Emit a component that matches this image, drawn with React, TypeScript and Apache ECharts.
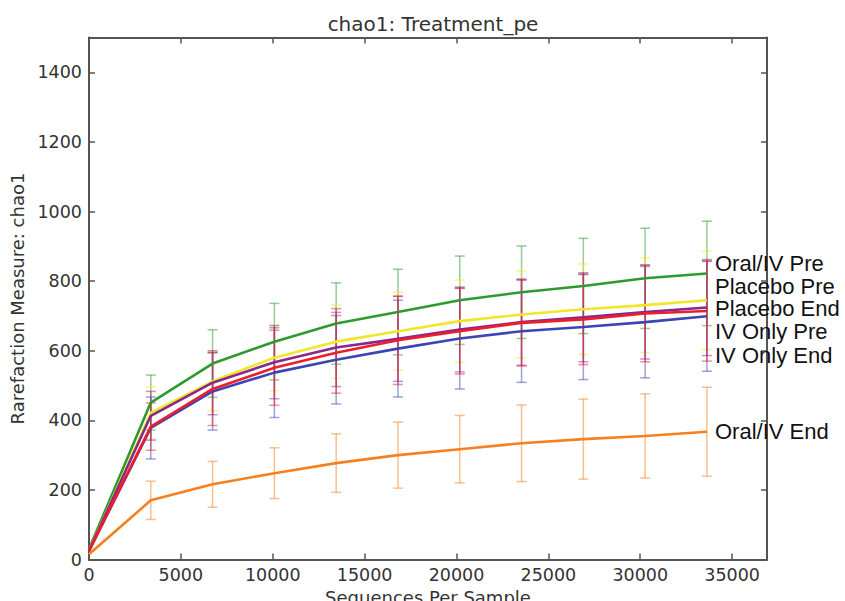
import React, { useEffect, useRef } from 'react';
import * as echarts from 'echarts';

// Sequences per sample (rarefaction depths)
const depths = [0, 3363, 6726, 10089, 13452, 16815, 20178, 23541, 26904, 30267, 33630];

const groupNames = ['Oral/IV Pre', 'Placebo Pre', 'Placebo End', 'IV Only Pre', 'IV Only End', 'Oral/IV End'];
const groupColors = ['#2e9a2e', '#f2e62a', '#87298a', '#ee1d2b', '#3b45b3', '#f6801f'];

const oralIvPreMean = [30, 451, 563, 626, 678, 711, 745, 768, 786, 808, 822];
const oralIvPreStd = [0, 79, 97, 110, 117, 123, 127, 133, 137, 144, 150];

const placeboPreMean = [25, 421, 512, 580, 626, 656, 685, 704, 719, 731, 745];
const placeboPreStd = [0, 75, 85, 95, 105, 112, 118, 125, 130, 136, 142];

const placeboEndMean = [25, 413, 508, 567, 609, 634, 661, 682, 696, 711, 724];
const placeboEndStd = [0, 70, 92, 105, 112, 122, 122, 124, 128, 135, 138];

const ivOnlyPreMean = [25, 382, 490, 551, 594, 630, 656, 680, 690, 707, 714];
const ivOnlyPreStd = [0, 68, 105, 108, 116, 127, 123, 124, 130, 139, 144];

const ivOnlyEndMean = [25, 378, 483, 537, 574, 606, 635, 656, 668, 682, 699];
const ivOnlyEndStd = [0, 89, 111, 129, 127, 139, 145, 147, 151, 160, 158];

const oralIvEndMean = [15, 170, 216, 248, 277, 300, 317, 334, 346, 355, 367];
const oralIvEndStd = [0, 55, 66, 73, 84, 95, 97, 110, 115, 121, 128];

const xTicks = [0, 5000, 10000, 15000, 20000, 25000, 30000, 35000];
const yTicks = [0, 200, 400, 600, 800, 1000, 1200, 1400];

const labelYs = [265, 288, 310, 333, 357, 433];

const means = [oralIvPreMean, placeboPreMean, placeboEndMean, ivOnlyPreMean, ivOnlyEndMean, oralIvEndMean];
const stds = [oralIvPreStd, placeboPreStd, placeboEndStd, ivOnlyPreStd, ivOnlyEndStd, oralIvEndStd];

// draw order: first drawn is lowest
const drawOrder = [5, 0, 1, 4, 2, 3];

const X_MAX = 36900;
const Y_MAX = 1500;
const FONT = '"DejaVu Sans", sans-serif';

export default function App() {
  const ref = useRef<HTMLDivElement>(null);

  useEffect(() => {
    if (!ref.current) return;
    const chart = echarts.init(ref.current, null, { renderer: 'svg', width: 845, height: 601 });

    const series: any[] = [];
    drawOrder.forEach((gi, k) => {
      const color = groupColors[gi];
      const mean = means[gi];
      const std = stds[gi];
      series.push({
        type: 'custom',
        name: groupNames[gi] + ' error',
        xAxisIndex: 0,
        yAxisIndex: 0,
        z: 2,
        silent: true,
        data: depths
          .map((x, i) => [x, mean[i] - std[i], mean[i] + std[i], std[i]])
          .filter((d) => d[3] > 0),
        encode: { x: 0, y: [1, 2] },
        renderItem: (params: any, api: any) => {
          const x = api.value(0);
          const lo = api.coord([x, api.value(1)]);
          const hi = api.coord([x, api.value(2)]);
          const hw = 5;
          const st = { stroke: color, lineWidth: 1.5, opacity: 0.5 };
          return {
            type: 'group',
            children: [
              { type: 'line', shape: { x1: lo[0], y1: lo[1], x2: hi[0], y2: hi[1] }, style: st },
              { type: 'line', shape: { x1: lo[0] - hw, y1: lo[1], x2: lo[0] + hw, y2: lo[1] }, style: st },
              { type: 'line', shape: { x1: hi[0] - hw, y1: hi[1], x2: hi[0] + hw, y2: hi[1] }, style: st },
            ],
          };
        },
      });
      series.push({
        type: 'line',
        name: groupNames[gi],
        xAxisIndex: 0,
        yAxisIndex: 0,
        z: 3 + k,
        showSymbol: false,
        symbol: 'none',
        color,
        lineStyle: { color, width: 2.6 },
        data: depths.map((x, i) => [x, mean[i]]),
      });
    });

    const axisLineStyle = { color: '#555', width: 2 };
    const tickStyle = { color: '#555', width: 1.5 };

    const option: any = {
      animation: false,
      backgroundColor: '#fff',
      title: {
        text: 'chao1: Treatment_pe',
        left: 428,
        top: 9,
        textAlign: 'center',
        textStyle: { fontFamily: FONT, fontSize: 20, fontWeight: 'normal', color: '#333' },
      },
      grid: {
        left: 89,
        right: 78,
        top: 37.5,
        bottom: 41.5,
        containLabel: false,
        outerBoundsMode: 'none',
      },
      xAxis: [
        {
          type: 'value',
          min: 0,
          max: X_MAX,
          interval: 5000,
          position: 'bottom',
          name: 'Sequences Per Sample',
          nameLocation: 'middle',
          nameGap: 25,
          nameTextStyle: { fontFamily: FONT, fontSize: 18, color: '#333' },
          axisLine: { show: true, onZero: false, lineStyle: axisLineStyle },
          axisTick: { show: true, inside: true, length: 6, lineStyle: tickStyle },
          axisLabel: {
            fontFamily: FONT,
            fontSize: 17.5,
            color: '#333',
            margin: 6,
            formatter: (v: number) => (xTicks.includes(v) ? String(v) : ''),
          },
          splitLine: { show: false },
        },
        {
          type: 'value',
          min: 0,
          max: X_MAX,
          interval: 5000,
          position: 'top',
          axisLine: { show: true, onZero: false, lineStyle: axisLineStyle },
          axisTick: { show: true, inside: true, length: 6, lineStyle: tickStyle },
          axisLabel: { show: false },
          splitLine: { show: false },
        },
      ],
      yAxis: [
        {
          type: 'value',
          min: 0,
          max: Y_MAX,
          interval: 200,
          position: 'left',
          name: 'Rarefaction Measure: chao1',
          nameLocation: 'middle',
          nameGap: 60,
          nameRotate: 90,
          nameTextStyle: { fontFamily: FONT, fontSize: 18, color: '#333' },
          axisLine: { show: true, onZero: false, lineStyle: axisLineStyle },
          axisTick: { show: true, inside: true, length: 6, lineStyle: tickStyle },
          axisLabel: {
            fontFamily: FONT,
            fontSize: 17.5,
            color: '#333',
            margin: 7,
            formatter: (v: number) => (yTicks.includes(v) ? String(v) : ''),
          },
          splitLine: { show: false },
        },
        {
          type: 'value',
          min: 0,
          max: Y_MAX,
          interval: 200,
          position: 'right',
          axisLine: { show: true, onZero: false, lineStyle: axisLineStyle },
          axisTick: { show: true, inside: true, length: 6, lineStyle: tickStyle },
          axisLabel: { show: false },
          splitLine: { show: false },
        },
      ],
      graphic: groupNames.map((name, i) => ({
        type: 'text',
        left: 715,
        top: labelYs[i] - 13,
        z: 100,
        style: {
          text: name,
          fontFamily: '"Liberation Sans", Arial, sans-serif',
          fontSize: 22,
          fill: '#111',
        },
      })),
      series,
    };

    chart.setOption(option);
    return () => chart.dispose();
  }, []);

  return <div ref={ref} style={{ position: 'fixed', left: 0, top: 0, width: 845, height: 601 }} />;
}
